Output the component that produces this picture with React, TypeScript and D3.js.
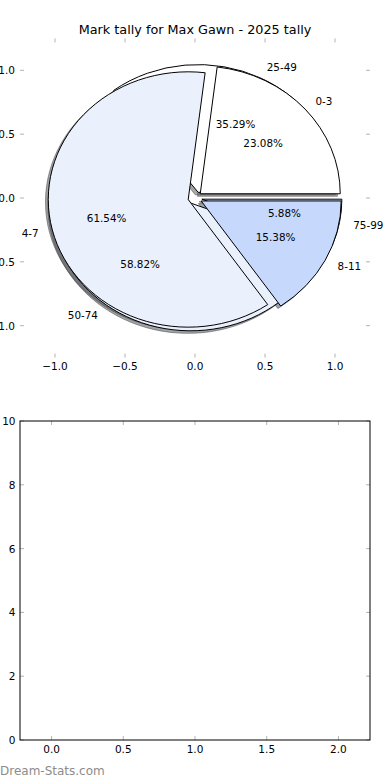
import React from "react";
import * as d3 from "d3";

const W = 390;
const H = 780;

const TITLE = "Mark tally for Max Gawn - 2025 tally";

// pie drawn on top (2025 tally)
const labels1 = ["0-3", "4-7", "8-11"];
const values1 = [3, 8, 2];
// pie drawn underneath
const labels2 = ["25-49", "50-74", "75-99"];
const values2 = [6, 10, 1];
const sliceColors = ["#ffffff", "#eaf1fd", "#c6d9fd"];
const EXPLODE = 0.05;

const topXTicks = [-1, -0.5, 0, 0.5, 1];
const topYTicks = [-1, -0.5, 0, 0.5, 1];
const botXTicks = [0, 0.5, 1, 1.5, 2];
const botYTicks = [0, 2, 4, 6, 8, 10];

const FONT = "DejaVu Sans";

const fmt1 = (v: number) => (v < 0 ? "\u2212" : "") + Math.abs(v).toFixed(1);

export default function App() {
  const xTop = d3.scaleLinear().domain([-1.25, 1.25]).range([20, 370]);
  const yTop = d3.scaleLinear().domain([-1.25, 1.25]).range([357.6, 38.4]);
  const xBot = d3.scaleLinear().domain([-0.22, 2.22]).range([20, 370]);
  const yBot = d3.scaleLinear().domain([0, 10]).range([740, 421]);

  const sx = xTop(1) - xTop(0);
  const sy = yTop(0) - yTop(1);

  const pie = d3
    .pie<number>()
    .sort(null)
    .startAngle(Math.PI / 2)
    .endAngle(Math.PI / 2 + 2 * Math.PI);
  const arc = d3.arc<any>().innerRadius(0).outerRadius(1);

  const build = (values: number[], labels: string[]) => {
    const total = d3.sum(values);
    return pie(values).map((d, i) => {
      const mid = (d.startAngle + d.endAngle) / 2 - Math.PI / 2;
      const ox = EXPLODE * Math.cos(mid);
      const oy = EXPLODE * Math.sin(mid);
      const lx = ox + 1.1 * Math.cos(mid);
      const ly = oy + 1.1 * Math.sin(mid);
      const px = ox + 0.6 * Math.cos(mid);
      const py = oy + 0.6 * Math.sin(mid);
      return {
        d,
        i,
        ox,
        oy,
        label: labels[i],
        lx,
        ly,
        px,
        py,
        pct: ((values[i] / total) * 100).toFixed(2) + "%",
        color: sliceColors[i % sliceColors.length],
      };
    });
  };

  const pie1 = build(values1, labels1);
  const pie2 = build(values2, labels2);

  const shadowColor = (c: string) => {
    const col = d3.rgb(c);
    return d3.rgb(col.r * 0.3, col.g * 0.3, col.b * 0.3).toString();
  };

  const tickColor = "#b4b4b4";
  const TL = 4;

  const axisTicks = (
    xs: d3.ScaleLinear<number, number>,
    ys: d3.ScaleLinear<number, number>,
    xt: number[],
    yt: number[],
    key: string
  ) => {
    const [x0, x1] = xs.range();
    const [y0, y1] = ys.range();
    const items: React.ReactNode[] = [];
    xt.forEach((v, i) => {
      const x = xs(v);
      items.push(
        <line key={key + "xb" + i} x1={x} x2={x} y1={y0} y2={y0 - TL} stroke={tickColor} strokeWidth={1} />,
        <line key={key + "xt" + i} x1={x} x2={x} y1={y1} y2={y1 + TL} stroke={tickColor} strokeWidth={1} />,
        <text key={key + "xl" + i} x={x} y={y0 + 8.5} textAnchor="middle" dominantBaseline="central" fontSize={10.5} fontFamily={FONT} fill="#000">
          {fmt1(v)}
        </text>
      );
    });
    yt.forEach((v, i) => {
      const y = ys(v);
      items.push(
        <line key={key + "yl" + i} x1={x0} x2={x0 + TL} y1={y} y2={y} stroke={tickColor} strokeWidth={1} />,
        <line key={key + "yr" + i} x1={x1} x2={x1 - TL} y1={y} y2={y} stroke={tickColor} strokeWidth={1} />
      );
    });
    return items;
  };

  return (
    <div style={{ position: "absolute", left: 0, top: 0 }}>
      <svg width={W} height={H} viewBox={`0 0 ${W} ${H}`} style={{ display: "block", background: "#fff" }}>
        <rect x={0} y={0} width={W} height={H} fill="#fff" />
        {/* title */}
        <text x={195} y={29.5} textAnchor="middle" dominantBaseline="central" fontSize={12.8} fontFamily={FONT} fill="#000">
          {TITLE}
        </text>

        {/* top axes ticks */}
        {axisTicks(xTop, yTop, topXTicks, topYTicks, "t")}
        {topYTicks.map((v, i) => (
          <text key={"tyl" + i} x={15} y={yTop(v)} textAnchor="end" dominantBaseline="central" fontSize={10.5} fontFamily={FONT} fill="#000">
            {fmt1(v)}
          </text>
        ))}

        {/* pies */}
        <g transform={`translate(${xTop(0)},${yTop(0)}) scale(${sx},${-sy})`}>
          {[...pie2, ...pie1].map((w, k) => (
            <g key={"sh" + k} transform={`translate(${w.ox - 0.02},${w.oy - 0.02})`}>
              <path
                d={arc(w.d) as string}
                fill={shadowColor(w.color)}
                stroke={shadowColor(w.color)}
                fillOpacity={0.5}
                strokeOpacity={0.5}
                strokeWidth={1}
                vectorEffect="non-scaling-stroke"
              />
            </g>
          ))}
          {[...pie2, ...pie1].map((w, k) => (
            <g key={"w" + k} transform={`translate(${w.ox},${w.oy})`}>
              <path
                d={arc(w.d) as string}
                fill={w.color}
                stroke="#000"
                strokeWidth={1}
                strokeLinejoin="round"
                vectorEffect="non-scaling-stroke"
              />
            </g>
          ))}
        </g>
        {[...pie1, ...pie2].map((w, k) => (
          <g key={"lab" + k}>
            <text
              x={xTop(w.lx)}
              y={yTop(w.ly)}
              textAnchor={w.lx > 0 ? "start" : "end"}
              dominantBaseline="central"
              fontSize={10.4}
              fontFamily={FONT}
              fill="#000"
            >
              {w.label}
            </text>
            <text
              x={xTop(w.px)}
              y={yTop(w.py)}
              textAnchor="middle"
              dominantBaseline="central"
              fontSize={10.4}
              fontFamily={FONT}
              fill="#000"
            >
              {w.pct}
            </text>
          </g>
        ))}

        {/* bottom axes */}
        {axisTicks(xBot, yBot, botXTicks, botYTicks, "b")}
        {botYTicks.map((v, i) => (
          <text key={"byl" + i} x={15.5} y={yBot(v)} textAnchor="end" dominantBaseline="central" fontSize={10.5} fontFamily={FONT} fill="#000">
            {String(v)}
          </text>
        ))}
        <rect x={20} y={421} width={350} height={319} fill="none" stroke="#000" strokeWidth={1} />

        {/* watermark */}
        <text x={0} y={775} fontSize={12} fontFamily={FONT} fill="#8c8c8c">
          Dream-Stats.com
        </text>
      </svg>
    </div>
  );
}
